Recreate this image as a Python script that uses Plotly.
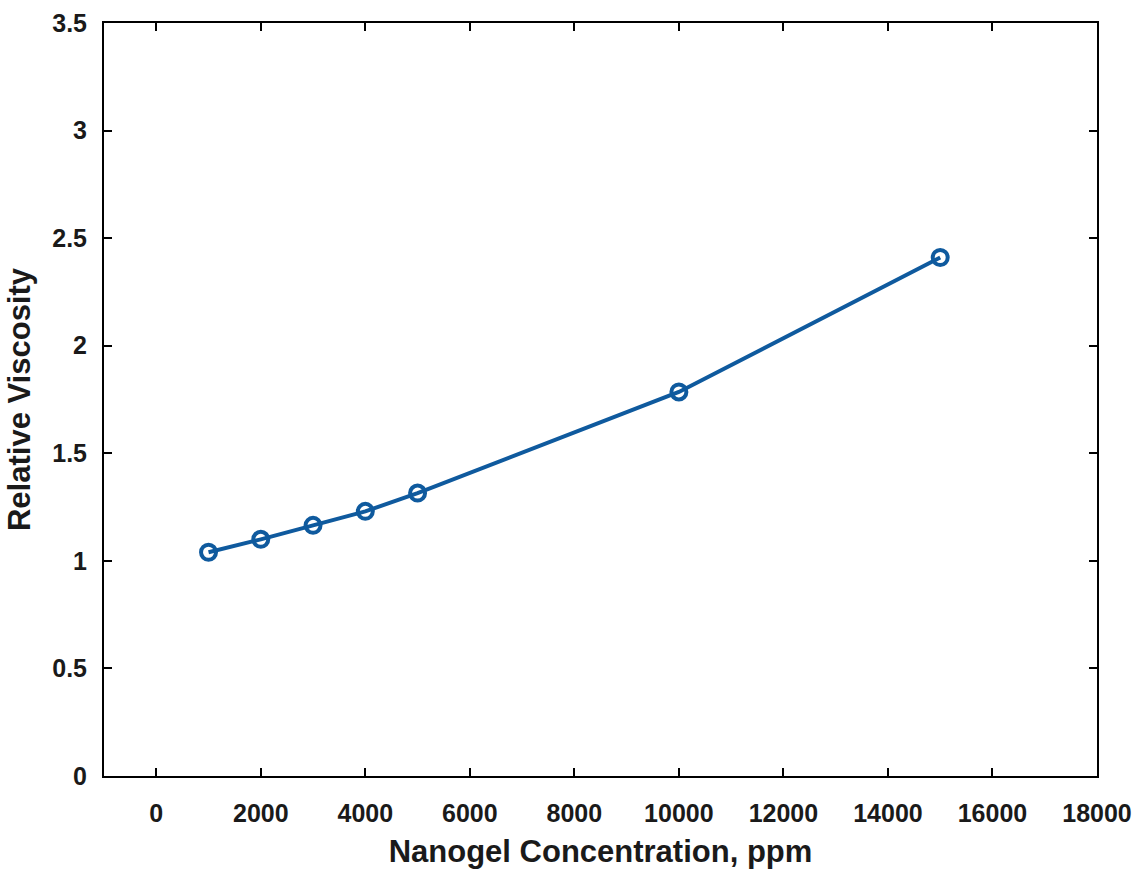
import plotly.graph_objects as go

# Nanogel concentration (ppm) and measured relative viscosity
concentration_ppm = [1000, 2000, 3000, 4000, 5000, 10000, 15000]
relative_viscosity = [1.04, 1.10, 1.165, 1.23, 1.315, 1.785, 2.41]

x_tick_values = [0, 2000, 4000, 6000, 8000, 10000, 12000, 14000, 16000, 18000]
y_tick_values = [0, 0.5, 1, 1.5, 2, 2.5, 3, 3.5]

line_color = "#0f5a9e"
font_family = "Liberation Sans, Arial, sans-serif"

fig = go.Figure()
fig.add_trace(go.Scatter(
    x=concentration_ppm,
    y=relative_viscosity,
    mode="lines+markers",
    line=dict(color=line_color, width=4),
    marker=dict(symbol="circle-open", size=15, color=line_color,
                line=dict(color=line_color, width=4)),
    showlegend=False,
))

axis_common = dict(
    showline=True, linecolor="black", linewidth=2, mirror="ticks",
    ticks="inside", ticklen=8, tickwidth=2, tickcolor="black",
    showgrid=False, zeroline=False, automargin=False,
    tickfont=dict(family=font_family, size=25, color="#1a1a1a", weight="bold"),
)

fig.update_xaxes(
    range=[-1000, 18000], tickvals=x_tick_values, tickformat="d",
    ticklabelstandoff=14,
    title=dict(text="<b>Nanogel Concentration, ppm</b>", standoff=16,
               font=dict(family=font_family, size=31, color="#1a1a1a")),
    **axis_common,
)
fig.update_yaxes(
    range=[0, 3.5], tickvals=y_tick_values,
    ticklabelstandoff=10,
    title=dict(text="<b>Relative Viscosity</b>", standoff=12,
               font=dict(family=font_family, size=31, color="#1a1a1a")),
    **axis_common,
)

fig.update_layout(
    width=1137, height=869,
    margin=dict(l=104, r=40, t=23, b=93),
    paper_bgcolor="white", plot_bgcolor="white",
)

fig.write_html("out.html")
